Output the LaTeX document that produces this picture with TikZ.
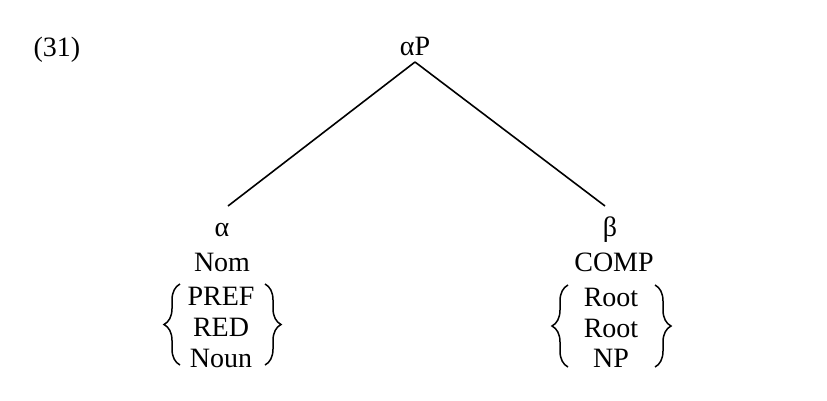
\documentclass[tikz,border=0pt]{standalone}
\usepackage{fontspec}
\setmainfont{Liberation Serif}
\usetikzlibrary{decorations.pathreplacing}
\begin{document}
\begin{tikzpicture}[x=1pt,y=-1pt,
  lbl/.style={anchor=base,inner sep=0pt,font=\fontsize{28}{32}\selectfont},
  edge/.style={line width=1.6pt},
  brc/.style={line width=1.5pt,decorate,decoration={brace,amplitude=16pt}}]
\useasboundingbox (0,0) rectangle (827,400);
\node[lbl] (n31) at (57,56) {(31)};
\node[lbl] (aP) at (415,55) {αP};
\coordinate (top) at (415,62);
\coordinate (lend) at (228,206);
\coordinate (rend) at (605,206);
% left column
\node[lbl] (alpha) at (222,236) {α};
\node[lbl] (nom) at (222,271) {Nom};
\node[lbl] (pref) at (221,305) {PREF};
\node[lbl] (red) at (221,336) {RED};
\node[lbl] (noun) at (221,367) {Noun};
% right column
\node[lbl] (beta) at (610,236) {β};
\node[lbl] (comp) at (614,271) {COMP};
\node[lbl] (root1) at (611,306) {Root};
\node[lbl] (root2) at (611,337) {Root};
\node[lbl] (np) at (611,367) {NP};
% connectors
\draw[edge] (top) -- (lend);
\draw[edge] (top) -- (rend);
% braces
\coordinate (lb1) at (180,365);
\coordinate (lb2) at (180,284);
\coordinate (lb3) at (265,284);
\coordinate (lb4) at (265,365);
\coordinate (rb1) at (568,367);
\coordinate (rb2) at (568,285);
\coordinate (rb3) at (655,285);
\coordinate (rb4) at (655,367);
\draw[brc] (lb1) -- (lb2);
\draw[brc] (lb3) -- (lb4);
\draw[brc] (rb1) -- (rb2);
\draw[brc] (rb3) -- (rb4);
\end{tikzpicture}
\end{document}
